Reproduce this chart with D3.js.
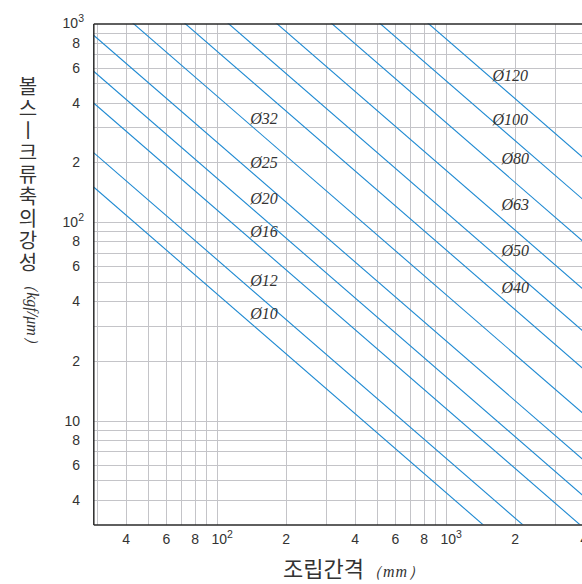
<!DOCTYPE html>
<html>
<head>
<meta charset="utf-8">
<script src="https://cdn.jsdelivr.net/npm/d3@7"></script>
<style>
	body { margin: 0; background: #fff; }
	svg { display: block; }
	.grid line { stroke: #c4c4c8; stroke-width: 1; shape-rendering: crispEdges; }
	.stiff-line { fill: none; stroke: #1f8ad2; stroke-width: 1.1; }
	.dia-label { font-family: "Liberation Serif", "DejaVu Serif", "Times New Roman", serif; font-style: italic; font-size: 16px; fill: #333; }
	.title { font-family: "Noto Sans CJK KR", sans-serif; fill: #333; }
	.unit { font-family: "Liberation Serif", "DejaVu Serif", "Times New Roman", serif; font-style: italic; fill: #333; }
</style>
</head>
<body>
<svg id="chart" width="582" height="584"></svg>
<script>
// screw shaft diameters, one line each
const diameters = ["Ø10", "Ø12", "Ø16", "Ø20", "Ø25", "Ø32", "Ø40", "Ø50", "Ø63", "Ø80", "Ø100", "Ø120"];
// stiffness * mounting distance (kgf/μm * mm)
const lineConst = [4355, 6490, 11540, 16675, 25300, 43230, 72700, 112400, 182800, 317800, 516600, 839500];
// where each diameter label sits (mm, kgf/μm)
const labelSpan = [140, 140, 140, 140, 140, 140, 1750, 1750, 1750, 1750, 1600, 1600];
const labelStiff = [32.5, 47.6, 84, 123, 187, 312, 43.9, 67.4, 115, 196, 308, 513];

const xTicks = [40, 60, 80, 100, 200, 400, 600, 800, 1000, 2000, 4000];
const xTickText = ["4", "6", "8", "10|2", "2", "4", "6", "8", "10|3", "2", "4"];
const yTicks = [4, 6, 8, 10, 20, 40, 60, 80, 100, 200, 400, 600, 800, 1000];
const yTickText = ["4", "6", "8", "10", "2", "4", "6", "8", "10|2", "2", "4", "6", "8", "10|3"];

const svg = d3.select("#chart");

const plot = { left: 93.3, right: 605.8, top: 23.5, bottom: 524.5 };

const x = d3.scaleLog().domain([28.9, 5000]).range([plot.left, plot.right]);
const y = d3.scaleLog().domain([3, 1000]).range([plot.bottom, plot.top]);

svg.append("clipPath")
	.attr("id", "plot-clip")
	.append("rect")
	.attr("x", plot.left)
	.attr("y", plot.top)
	.attr("width", plot.right - plot.left)
	.attr("height", plot.bottom - plot.top);

/*
 * grid, every integer step of each decade
 */
const grid = svg.append("g").classed("grid", true);
grid.selectAll("line.vx")
	.data(x.ticks().filter((d) => x(d) > plot.left + 1))
	.join("line")
	.classed("vx", true)
	.attr("x1", (d) => Math.round(x(d)) + 0.5)
	.attr("x2", (d) => Math.round(x(d)) + 0.5)
	.attr("y1", plot.top)
	.attr("y2", plot.bottom);
grid.selectAll("line.hy")
	.data(y.ticks().filter((d) => y(d) > plot.top + 1 && y(d) < plot.bottom - 1))
	.join("line")
	.classed("hy", true)
	.attr("x1", plot.left)
	.attr("x2", plot.right)
	.attr("y1", (d) => Math.round(y(d)) + 0.5)
	.attr("y2", (d) => Math.round(y(d)) + 0.5);

// one line per diameter, k = C / L
const [xMin, xMax] = x.domain();
const line = d3.line()
	.x((d) => x(d[0]))
	.y((d) => y(d[1]));
svg.append("g")
	.attr("clip-path", "url(#plot-clip)")
	.selectAll("path")
	.data(lineConst)
	.join("path")
	.classed("stiff-line", true)
	.attr("d", (c) => line([[xMin, c / xMin], [xMax, c / xMax]]));

svg.append("g")
	.selectAll("text")
	.data(diameters)
	.join("text")
	.classed("dia-label", true)
	.attr("x", (d, i) => x(labelSpan[i]))
	.attr("y", (d, i) => y(labelStiff[i]))
	.text((d) => d);

// writes "10|2" as 10 with a raised 2
function supLabel(sel, texts, values) {
	sel.each(function (d) {
		const t = texts[values.indexOf(d)];
		const node = d3.select(this).text(null);
		const parts = t.split("|");
		node.append("tspan").text(parts[0]);
		if (parts.length > 1) {
			node.append("tspan")
				.attr("dy", "-6")
				.attr("font-size", "10.5px")
				.text(parts[1]);
		}
	});
}

/*
 * axes, ticks hidden, only the labels and the frame are kept
 */
const xAxis = svg.append("g")
	.attr("transform", `translate(0, ${plot.bottom})`)
	.call(d3.axisBottom(x).tickValues(xTicks).tickSize(0).tickPadding(9.5));
xAxis.selectAll(".tick text")
	.attr("dx", (d) => (d === 100 || d === 1000 ? 5 : 0))
	.call(supLabel, xTickText, xTicks);

const yAxis = svg.append("g")
	.attr("transform", `translate(${plot.left}, 0)`)
	.call(d3.axisLeft(y).tickValues(yTicks).tickSize(0).tickPadding(13.3));
yAxis.selectAll(".tick text")
	.attr("dx", (d) => (d === 100 || d === 1000 ? 4 : 0))
	.call(supLabel, yTickText, yTicks);

svg.append("g")
	.attr("transform", `translate(0, ${plot.top})`)
	.call(d3.axisTop(x).tickValues([]).tickSizeOuter(0));

for (const ax of [xAxis, yAxis]) {
	ax.attr("font-family", "'Liberation Sans', Arial, sans-serif")
		.attr("font-size", 14);
	ax.selectAll(".tick text").attr("fill", "#333");
}
svg.selectAll(".domain").attr("stroke", "#2a2a2a").attr("stroke-width", 1.5);

// titles
svg.append("text")
	.classed("title", true)
	.attr("x", 283)
	.attr("y", 577)
	.attr("font-size", 22)
	.text("조립간격")
	.append("tspan")
	.classed("unit", true)
	.attr("font-size", 16)
	.attr("dx", 2)
	.style("letter-spacing", "1px")
	.text("（mm）");

// y title is set upright, top to bottom
svg.append("text")
	.classed("title", true)
	.attr("x", 28)
	.attr("y", 76)
	.attr("font-size", 20)
	.style("writing-mode", "vertical-rl")
	.style("letter-spacing", "2px")
	.text("볼스ㅣ크류축의강성");

svg.append("text")
	.classed("unit", true)
	.attr("transform", "translate(32, 314) rotate(90)")
	.attr("font-size", 16)
	.attr("text-anchor", "middle")
	.attr("dominant-baseline", "central")
	.text("（kgf/μm）");
</script>
</body>
</html>
